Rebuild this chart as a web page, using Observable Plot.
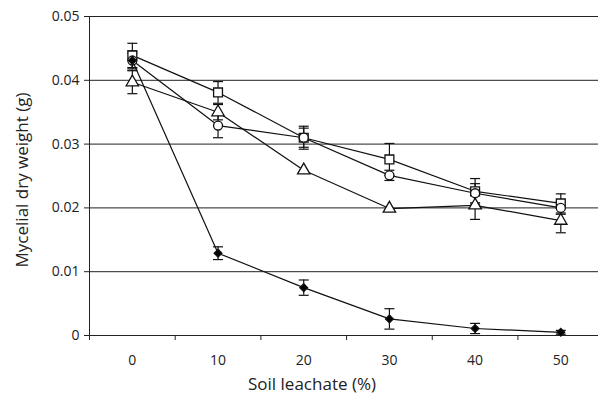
<!DOCTYPE html>
<html><head><meta charset="utf-8">
<script src="https://cdn.jsdelivr.net/npm/d3@7"></script>
<script src="https://cdn.jsdelivr.net/npm/@observablehq/plot@0.6"></script>
<style>body{margin:0;background:#fff;}svg{display:block;}</style>
</head><body><div id="chart"></div>
<script>
const xs = [0, 10, 20, 30, 40, 50];
const squareY = [0.0439, 0.0381, 0.0310, 0.0276, 0.0226, 0.0207];
const squareErr = [0.0019, 0.0017, 0.0018, 0.0025, 0.0020, 0.0015];
const circleY = [0.0431, 0.0329, 0.0310, 0.0251, 0.0223, 0.0200];
const circleErr = [0.0012, 0.0019, 0.0015, 0.0008, 0.0015, 0.0010];
const triangleY = [0.0397, 0.0350, 0.0259, 0.0199, 0.0204, 0.0180];
const triangleErr = [0.0018, 0.0012, 0, 0, 0.0022, 0.0019];
const diamondY = [0.0431, 0.0129, 0.0075, 0.0026, 0.0011, 0.0005];
const diamondErr = [0.0015, 0.0010, 0.0012, 0.0016, 0.0008, 0.0003];
const yTicks = [0, 0.01, 0.02, 0.03, 0.04, 0.05];
const yTickLabels = ["0", "0.01", "0.02", "0.03", "0.04", "0.05"];
const xLabelTicks = [0, 10, 20, 30, 40, 50];
const xTickMarks = [-5, 5, 15, 25, 35, 45];

const seriesDefs = [
  {name: "square", ys: squareY, err: squareErr, symbol: "square", fill: "white", r: 5},
  {name: "circle", ys: circleY, err: circleErr, symbol: "circle", fill: "white", r: 4.5},
  {name: "triangle", ys: triangleY, err: triangleErr, symbol: "triangle", fill: "white", r: 4.6},
  {name: "diamond", ys: diamondY, err: diamondErr, symbol: "diamond2", fill: "black", r: 3.5}
];
const rows = seriesDefs.flatMap(s => xs.map((x, i) => ({series: s.name, x, y: s.ys[i], e: s.err[i]})));
const errRows = rows.filter(d => d.e > 0);
const yLabelRows = yTicks.map((v, i) => ({y: v, label: yTickLabels[i]}));

const cap = {draw(ctx, size) { const r = Math.sqrt(size / Math.PI); ctx.moveTo(-r, 0); ctx.lineTo(r, 0); }};

const font = "'Open Sans', 'Noto Sans', sans-serif";

const marks = [
  Plot.ruleY(yTicks.filter(v => v > 0), {stroke: "#222", strokeWidth: 1}),
  Plot.ruleY([0], {stroke: "#222"}),
  Plot.ruleX([-5], {stroke: "#222"}),
  Plot.axisY(yTicks, {tickSize: 5, tickFormat: () => "", label: null, stroke: "#222"}),
  Plot.axisX(xTickMarks, {tickSize: 5, tickFormat: () => "", label: null, stroke: "#222"}),
  Plot.text(yLabelRows, {x: -5, y: "y", text: "label", textAnchor: "end", dx: -10, fontSize: 14, fill: "#222"}),
  Plot.text(xLabelTicks, {x: d => d, y: 0, text: d => String(d), dy: 25, fontSize: 14, fill: "#222"}),
  Plot.ruleX(errRows, {x: "x", y1: d => d.y - d.e, y2: d => d.y + d.e, stroke: "#111", strokeWidth: 1.2}),
  Plot.dot(errRows, {x: "x", y: d => d.y + d.e, symbol: cap, r: 5, stroke: "#111", strokeWidth: 1.2, fill: "none"}),
  Plot.dot(errRows, {x: "x", y: d => d.y - d.e, symbol: cap, r: 5, stroke: "#111", strokeWidth: 1.2, fill: "none"}),
  ...seriesDefs.map(s => Plot.line(rows.filter(d => d.series === s.name), {x: "x", y: "y", stroke: "#111", strokeWidth: 1.2})),
  ...seriesDefs.map(s => Plot.dot(rows.filter(d => d.series === s.name), {x: "x", y: "y", symbol: s.symbol, r: s.r, fill: s.fill, stroke: "#111", strokeWidth: 1.3})),
  Plot.text(["Soil leachate (%)"], {frameAnchor: "bottom", textAnchor: "middle", dx: -32, dy: 54, fontSize: 17, fill: "#222"}),
  Plot.text(["Mycelial dry weight (g)"], {frameAnchor: "left", textAnchor: "middle", dx: -67, dy: 4, rotate: -90, fontSize: 17, fill: "#222"})
];

const chart = Plot.plot({
  width: 598,
  height: 403,
  marginLeft: 89,
  marginRight: 0,
  marginTop: 16,
  marginBottom: 68,
  style: {fontFamily: font, fontSize: "13px", background: "white", overflow: "visible"},
  x: {domain: [-5, 54.4], axis: null},
  y: {domain: [0, 0.05], axis: null},
  marks
});
document.getElementById("chart").append(chart);
</script>
</body></html>
